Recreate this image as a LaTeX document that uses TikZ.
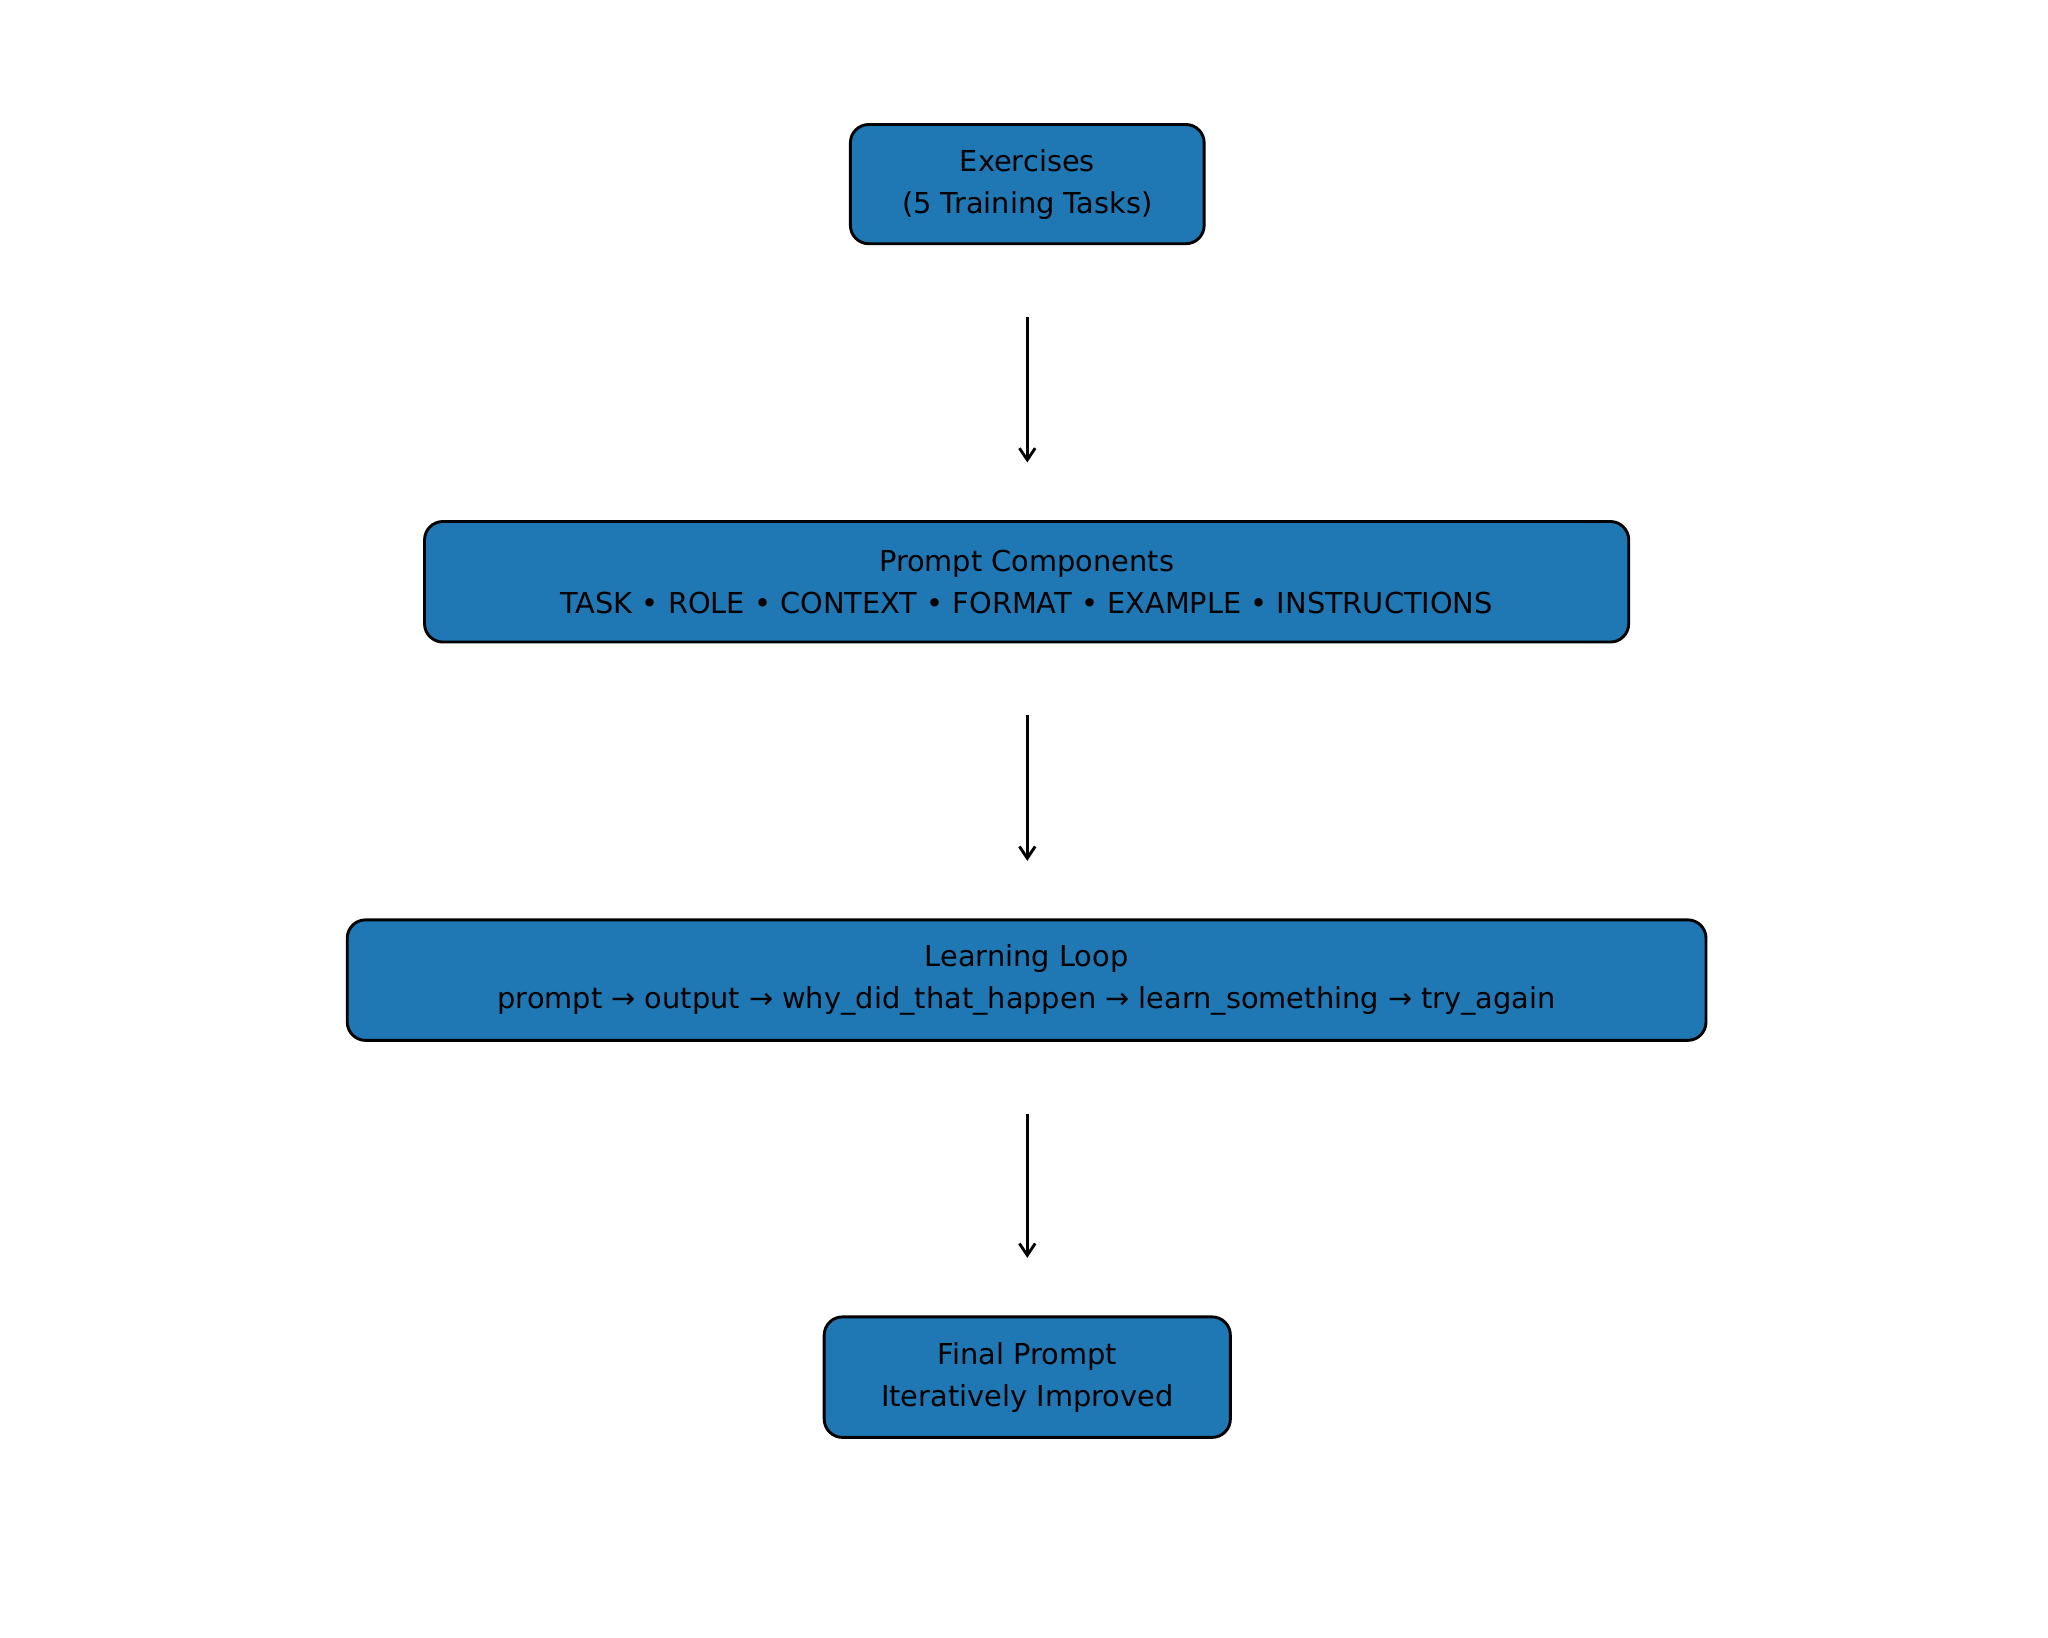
\documentclass[tikz,border=0pt]{standalone}
\usepackage{fontspec}
\setmainfont{DejaVu Sans}
\usetikzlibrary{arrows.meta}
\begin{document}
\begin{tikzpicture}[x=1pt,y=-1pt,
box/.style={draw=black,line width=2.2pt,fill={rgb,255:red,31;green,119;blue,180},rounded corners=14pt,align=center,inner sep=0pt,font=\fontsize{22}{32}\selectfont},
arr/.style={-{Straight Barb[length=9pt,width=12pt]},line width=2.2pt}]
\useasboundingbox (0,0) rectangle (1563,1250);
\node[box,minimum width=270pt,minimum height=91pt] (a) at (784,140.5) {Exercises\\(5 Training Tasks)};
\node[box,minimum width=919pt,minimum height=92pt] (b) at (783.5,444) {Prompt Components\\TASK • ROLE • CONTEXT • FORMAT • EXAMPLE • INSTRUCTIONS};
\node[box,minimum width=1037pt,minimum height=92pt] (c) at (783.5,748) {Learning Loop\\prompt → output → why\_did\_that\_happen → learn\_something → try\_again};
\node[box,minimum width=310pt,minimum height=92pt] (d) at (784,1051) {Final Prompt\\Iteratively Improved};
\coordinate (a1) at (784,242); \coordinate (a2) at (784,353);
\coordinate (b1) at (784,546); \coordinate (b2) at (784,657);
\coordinate (c1) at (784,850); \coordinate (c2) at (784,960);
\draw[arr] (a1) -- (a2);
\draw[arr] (b1) -- (b2);
\draw[arr] (c1) -- (c2);
\end{tikzpicture}
\end{document}
